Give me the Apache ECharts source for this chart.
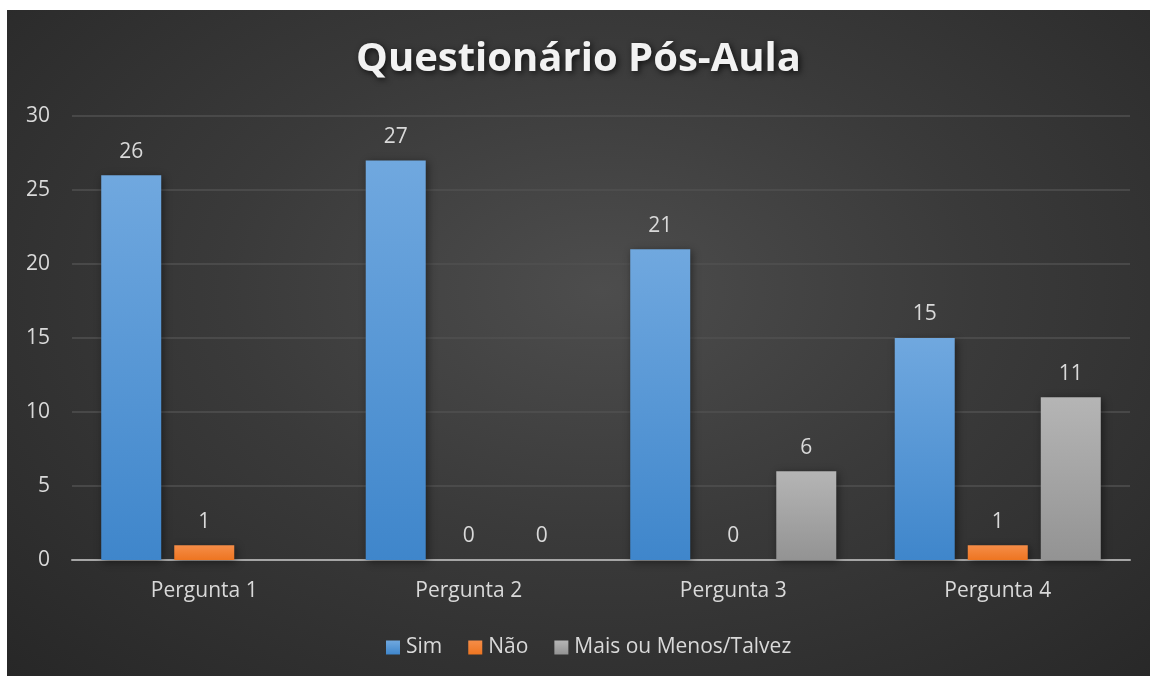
<!DOCTYPE html>
<html>
<head>
<meta charset="utf-8">
<script src="https://cdn.jsdelivr.net/npm/echarts@6/dist/echarts.min.js"></script>
<style>
html,body{margin:0;padding:0;background:#ffffff;width:1150px;height:676px;overflow:hidden;}
#wrap{position:absolute;left:7px;top:10px;width:1143px;height:666px;
background:radial-gradient(ellipse at 52% 42%, #4d4d4d 0%, #3a3a3a 45%, #272727 100%);}
#chart{width:1143px;height:666px;}
</style>
</head>
<body>
<div id="wrap"><div id="chart"></div></div>
<script>
const categories = ['Pergunta 1', 'Pergunta 2', 'Pergunta 3', 'Pergunta 4'];
const seriesNames = ['Sim', 'Não', 'Mais ou Menos/Talvez'];
const simValues = [26, 27, 21, 15];
const naoValues = [1, 0, 0, 1];
const talvezValues = [null, 0, 6, 11];
const yTicks = [0, 5, 10, 15, 20, 25, 30];

const font = '"Open Sans", "DejaVu Sans", sans-serif';
function grad(top, bottom) {
  return new echarts.graphic.LinearGradient(0, 0, 0, 1, [
    {offset: 0, color: top}, {offset: 1, color: bottom}
  ]);
}
const label = {
  show: true, position: 'top', distance: 13,
  color: '#d9d9d9', fontSize: 21, fontFamily: font
};
const shadow = {shadowBlur: 8, shadowColor: 'rgba(0,0,0,0.45)', shadowOffsetX: 2, shadowOffsetY: 2};

const chart = echarts.init(document.getElementById('chart'), null, {renderer: 'canvas'});
chart.setOption({
  animation: false,
  title: {
    text: 'Questionário Pós-Aula',
    left: 'center', top: 25,
    textStyle: {
      color: '#f2f2f2', fontSize: 40, fontWeight: 'bold', fontFamily: font,
      textShadowColor: 'rgba(0,0,0,0.7)', textShadowBlur: 6, textShadowOffsetX: 2, textShadowOffsetY: 2
    }
  },
  legend: {
    data: seriesNames, bottom: 13, left: 374,
    icon: 'rect', itemWidth: 14, itemHeight: 14, itemGap: 26,
    textStyle: {color: '#d9d9d9', fontSize: 21, fontFamily: font, padding: [0, 0, 0, 1]}
  },
  grid: {left: 65, right: 20, top: 106, bottom: 116, containLabel: false},
  xAxis: {
    type: 'category', data: categories,
    axisLine: {lineStyle: {color: '#a6a6a6', width: 2}},
    axisTick: {show: false},
    axisLabel: {color: '#d9d9d9', fontSize: 21, fontFamily: font, margin: 21}
  },
  yAxis: {
    type: 'value', min: 0, max: 30, interval: 5,
    axisLine: {show: false}, axisTick: {show: false},
    axisLabel: {color: '#d9d9d9', fontSize: 21, fontFamily: font, margin: 22,
      formatter: v => yTicks.includes(v) ? String(v) : ''},
    splitLine: {lineStyle: {color: '#505050', width: 1.5}}
  },
  series: [
    {name: seriesNames[0], type: 'bar', data: simValues, barWidth: 60, barGap: '21.7%', barCategoryGap: '22%',
      itemStyle: Object.assign({color: grad('#70a8df', '#3f86cb')}, shadow), label: label},
    {name: seriesNames[1], type: 'bar', data: naoValues, barWidth: 60, barGap: '21.7%',
      itemStyle: Object.assign({color: grad('#f58d48', '#ee7521')}, shadow), label: label},
    {name: seriesNames[2], type: 'bar', data: talvezValues, barWidth: 60, barGap: '21.7%',
      itemStyle: Object.assign({color: grad('#b5b5b5', '#939393')}, shadow), label: label}
  ]
});
</script>
</body>
</html>
